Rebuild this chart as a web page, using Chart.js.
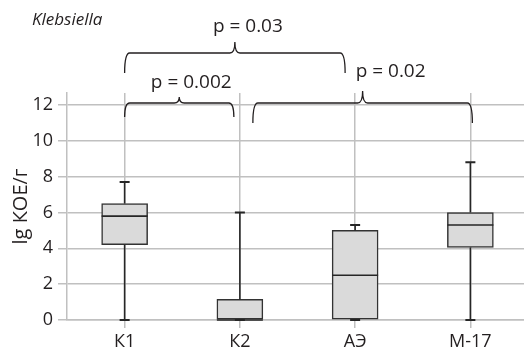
<!DOCTYPE html>
<html>
<head>
<meta charset="utf-8">
<script src="https://cdn.jsdelivr.net/npm/chart.js@4"></script>
<style>
  html, body { margin: 0; padding: 0; overflow: hidden; background: #fff; }
</style>
</head>
<body>
<canvas id="chart" width="528" height="352"></canvas>
<script>
// Box plot data (lg КОЕ/г)
const categories = ["К1", "К2", "АЭ", "М-17"];
const mins = [0, 0, 0, 0];
const q1s = [4.2, 0, 0, 4.05];
const medians = [5.8, 0, 2.5, 5.3];
const q3s = [6.5, 1.15, 5.0, 6.0];
const maxs = [7.7, 6.0, 5.3, 8.8];
const yTicks = [0, 2, 4, 6, 8, 10, 12];

// pairwise comparisons shown as braces above the plot
const compFrom = [0, 0, 1];
const compTo = [1, 2, 3];
const compLabels = ["p = 0.002", "p = 0.03", "p = 0.02"];

const TEXT = "#231f20";
const GRID = "#c0c0c0";
const FONT = "'Open Sans', sans-serif";

// Whiskers, medians, braces and the italic caption are drawn on top of the bars.
const boxExtras = {
  id: "boxExtras",
  afterDatasetsDraw(chart) {
    const { ctx, scales: { x, y } } = chart;
    ctx.save();
    ctx.strokeStyle = "#262626";
    ctx.lineWidth = 1.6;
    const half = 23;
    const cap = 5;
    categories.forEach((_, i) => {
      const cx = x.getPixelForValue(i);
      ctx.beginPath();
      // median
      ctx.moveTo(cx - half, y.getPixelForValue(medians[i]));
      ctx.lineTo(cx + half, y.getPixelForValue(medians[i]));
      // whiskers
      ctx.moveTo(cx, y.getPixelForValue(q3s[i]));
      ctx.lineTo(cx, y.getPixelForValue(maxs[i]));
      ctx.moveTo(cx, y.getPixelForValue(q1s[i]));
      ctx.lineTo(cx, y.getPixelForValue(mins[i]));
      ctx.stroke();
      ctx.lineWidth = 2;
      ctx.beginPath();
      ctx.moveTo(cx - cap, y.getPixelForValue(maxs[i]));
      ctx.lineTo(cx + cap, y.getPixelForValue(maxs[i]));
      ctx.moveTo(cx - cap, y.getPixelForValue(mins[i]));
      ctx.lineTo(cx + cap, y.getPixelForValue(mins[i]));
      ctx.stroke();
      ctx.lineWidth = 1.6;
    });

    // brace geometry (pixels): end insets, top offset from the 12 gridline, drop, peak, label shift
    const braceStyle = [
      { dx1: 0, dx2: -6, top: -2, drop: 14, peak: 6, lx: 12, ly: -22 },
      { dx1: 0, dx2: -10, top: -52, drop: 20, peak: 11, lx: 13, ly: -78 },
      { dx1: 13, dx2: 2, top: -2, drop: 20, peak: 12, lx: 28, ly: -33 }
    ];
    const y12 = y.getPixelForValue(12);
    ctx.strokeStyle = TEXT;
    ctx.lineWidth = 1.3;
    ctx.fillStyle = TEXT;
    ctx.font = "19px " + FONT;
    ctx.textAlign = "center";
    ctx.textBaseline = "middle";
    compLabels.forEach((label, k) => {
      const s = braceStyle[k];
      const x1 = x.getPixelForValue(compFrom[k]) + s.dx1;
      const x2 = x.getPixelForValue(compTo[k]) + s.dx2;
      const xm = (x1 + x2) / 2;
      const yt = y12 + s.top;
      const r = 5;
      ctx.beginPath();
      ctx.moveTo(x1, yt + s.drop);
      ctx.quadraticCurveTo(x1, yt, x1 + r, yt);
      ctx.lineTo(xm - r, yt);
      ctx.quadraticCurveTo(xm, yt, xm, yt - s.peak);
      ctx.quadraticCurveTo(xm, yt, xm + r, yt);
      ctx.lineTo(x2 - r, yt);
      ctx.quadraticCurveTo(x2, yt, x2, yt + s.drop);
      ctx.stroke();
      ctx.fillText(label, xm + s.lx, y12 + s.ly);
    });

    ctx.font = "italic 17px " + FONT;
    ctx.textAlign = "left";
    ctx.fillText("Klebsiella", 32, 20);
    ctx.restore();
  }
};

new Chart(document.getElementById("chart"), {
  type: "bar",
  data: {
    labels: categories,
    datasets: [{
      data: categories.map((_, i) => [q1s[i], q3s[i]]),
      backgroundColor: "#dadada",
      borderColor: "#333333",
      borderWidth: 1.5,
      borderSkipped: false,
      barThickness: 46
    }]
  },
  options: {
    responsive: false,
    animation: false,
    layout: { padding: { top: 93, right: 0, bottom: 0, left: 0 } },
    plugins: { legend: { display: false }, tooltip: { enabled: false } },
    scales: {
      x: {
        offset: true,
        grid: { offset: false, color: GRID, lineWidth: 1.5, tickLength: 8 },
        border: { color: GRID, width: 1.5 },
        ticks: { color: TEXT, font: { family: FONT, size: 18 }, padding: 3 },
        afterFit(scale) { scale.height = 32; }
      },
      y: {
        min: 0,
        max: 12.67,
        afterBuildTicks(scale) { scale.ticks = yTicks.map((v) => ({ value: v })); },
        grid: { color: GRID, lineWidth: 1.5, tickLength: 9 },
        border: { color: GRID, width: 1.5 },
        ticks: { color: TEXT, font: { family: FONT, size: 18 }, padding: 5 },
        title: {
          display: true,
          text: "lg КОЕ/г",
          color: TEXT,
          font: { family: FONT, size: 20 },
          padding: { top: 9, bottom: 0 }
        },
        afterFit(scale) { scale.width = 67; }
      }
    }
  },
  plugins: [boxExtras]
});
</script>
</body>
</html>
